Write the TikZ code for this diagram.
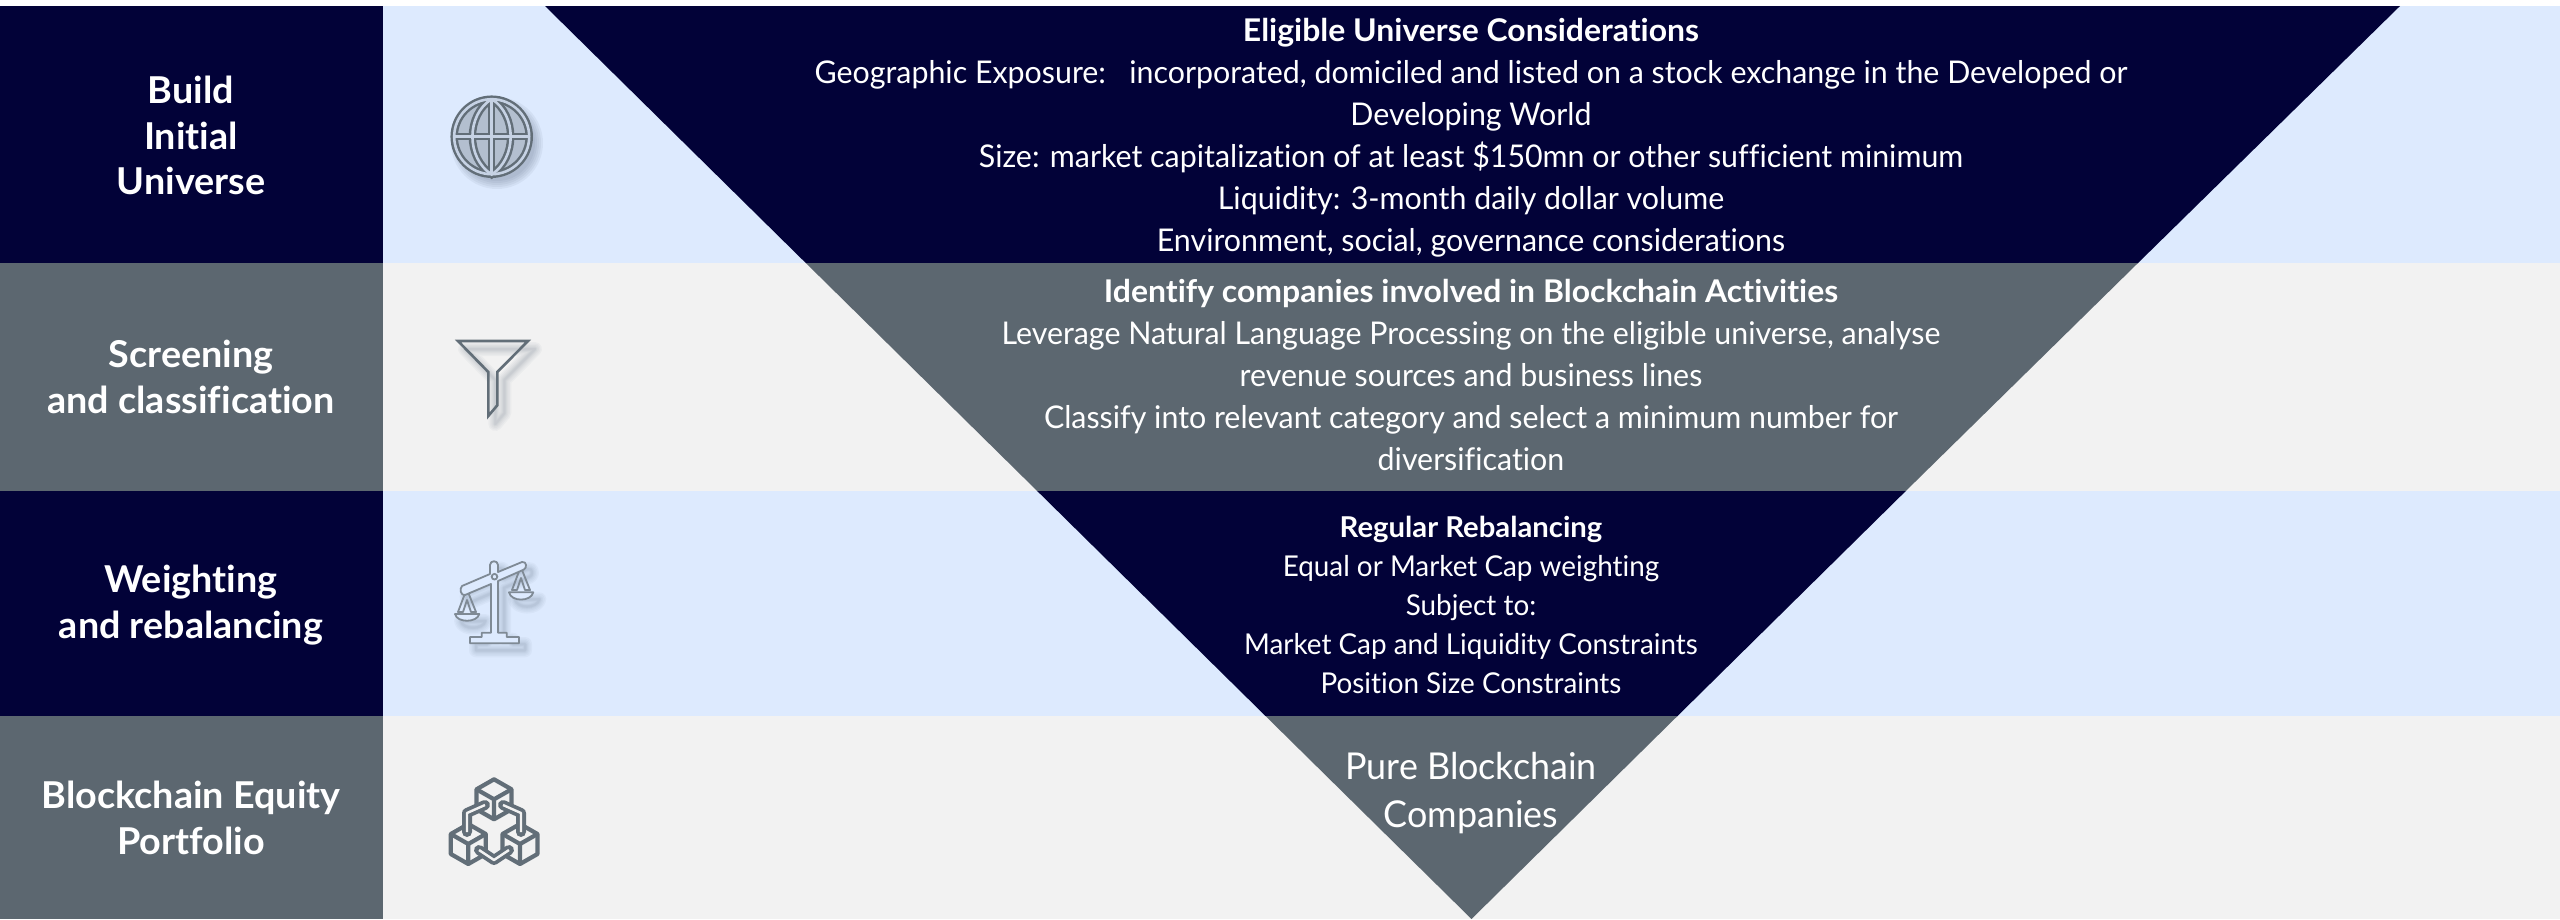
\documentclass[tikz,border=0pt]{standalone}
\usepackage{fontspec}
\setmainfont[FakeStretch=0.97,Ligatures=NoCommon,BoldFeatures={FakeStretch=1.02}]{Lato}
\definecolor{navy}{HTML}{020238}
\definecolor{slate}{HTML}{5C6770}
\definecolor{paleblue}{HTML}{DDEAFE}
\definecolor{palegrey}{HTML}{F2F2F2}
\definecolor{iconline}{HTML}{626E78}
\definecolor{iconlight}{HTML}{7F8A95}
\definecolor{shadowc}{HTML}{4A5A70}
\tikzset{
  x=1pt,y=-1pt,
  sidelabel/.style={text=white,font=\fontsize{37}{45.5}\selectfont\bfseries,align=center,inner sep=0pt},
  bodytext/.style={text=white,font=\fontsize{31.3}{42}\selectfont,align=center,inner sep=0pt},
  smalltext/.style={text=white,font=\fontsize{28.7}{39}\selectfont,align=center,inner sep=0pt},
  bigtext/.style={text=white,font=\fontsize{37}{48}\selectfont,align=center,inner sep=0pt},
  softshadow/.style={draw=shadowc,line width=#1,opacity=.045,line join=round,line cap=round},
}
\newcommand\softstroke[3]{% path, dx, dy
  \foreach \w in {14,11,8,5.5,3.5,2}{\path[softshadow=\w pt,shift={(#2,#3)}] #1;}}
\newcommand\funnelpath{(458,341) -- (528,341) -- (497.3,372) -- (497.3,405.3) -- (488.3,416) -- (488.3,372) -- cycle}
\newcommand\scalebeam{(462,586) -- (490,574) -- (490,565) .. controls (490,560) and (498,560) .. (498,565) -- (498,572) -- (522,562) .. controls (527,561) and (527,568) .. (524,569.5) -- (498,581) -- (498,632.7) -- (506.7,632.7) -- (506.7,637) -- (519,637) -- (519,643.3) -- (470,643.3) -- (470,637) -- (481.7,637) -- (481.7,632.7) -- (491,632.7) -- (491,584) -- (465,595) .. controls (461,596) and (459,589) .. (462,586) -- cycle}
\newcommand\leftpan{(455,614) -- (479.3,614) .. controls (477,623) and (457,623) .. (455,614) -- cycle}
\newcommand\rightpan{(509,592.3) -- (533.3,592.3) .. controls (531,602) and (511,602) .. (509,592.3) -- cycle}
\newcommand\leftcord{(465.5,592) -- (458,612) -- (463,612) -- (467,600) -- (471,612) -- (476,612) -- (468,592)}
\newcommand\rightcord{(519.5,570) -- (512,590) -- (517,590) -- (521,578) -- (525,590) -- (530,590) -- (522,570)}
\newcommand\cubeat[2]{%
  \path[draw=iconline,line width=4.2pt,line join=round,fill=palegrey]
    (#1,#2-20) -- (#1+17.5,#2-10) -- (#1+17.5,#2+10) -- (#1,#2+20) -- (#1-17.5,#2+10) -- (#1-17.5,#2-10) -- cycle;
  \path[draw=iconline,line width=4.2pt,line join=round]
    (#1-17.5,#2-10) -- (#1,#2) -- (#1+17.5,#2-10) (#1,#2) -- (#1,#2+20);}
\newcommand\chainlink[1]{%
  \path[draw=iconline,line width=10pt,line join=round,line cap=round] #1;
  \path[draw=palegrey,line width=2.4pt,line join=round] #1;}
\begin{document}
\begin{tikzpicture}
\useasboundingbox (0,0) rectangle (2560,919);
\fill[white] (0,0) rectangle (2560,6);
% bands
\fill[paleblue] (383,6) rectangle (2560,263);
\fill[palegrey] (383,263) rectangle (2560,491);
\fill[paleblue] (383,491) rectangle (2560,716);
\fill[palegrey] (383,716) rectangle (2560,919);
\fill[navy] (0,6) rectangle (383,263);
\fill[slate] (0,263) rectangle (383,491);
\fill[navy] (0,491) rectangle (383,716);
\fill[slate] (0,716) rectangle (383,919);
% funnel slices
\fill[navy] (545,6) -- (2400,6) -- (2138,263) -- (805.8,263) -- cycle;
\fill[slate] (805.8,263) -- (2138,263) -- (1905.8,491) -- (1037.2,491) -- cycle;
\fill[navy] (1037.2,491) -- (1905.8,491) -- (1677.5,716) -- (1265.5,716) -- cycle;
\fill[slate] (1265.5,716) -- (1677.5,716) -- (1471.5,919) -- cycle;
% side labels
\node[sidelabel] (l1) at (191,135.5) {Build\\Initial\\Universe};
\node[sidelabel] (l2) at (191,377) {Screening\\and classification};
\node[sidelabel] (l3) at (191,605) {Weighting\\and rebalancing};
\node[sidelabel] (l4) at (191,818) {Blockchain Equity\\Portfolio};
% centre text
\node[bodytext] (t1) at (1471,137.5) {\textbf{Eligible Universe Considerations}\\Geographic Exposure:\ \ \ incorporated, domiciled and listed on a stock exchange in the Developed or\\Developing World\\Size: market capitalization of at least \$150mn or other sufficient minimum\\Liquidity: 3-month daily dollar volume\\Environment, social, governance considerations};
\node[bodytext] (t2) at (1471,375) {\textbf{Identify companies involved in Blockchain Activities}\\Leverage Natural Language Processing on the eligible universe, analyse\\revenue sources and business lines\\Classify into relevant category and select a minimum number for\\diversification};
\node[smalltext] (t3) at (1471,605) {\textbf{Regular Rebalancing}\\Equal or Market Cap weighting\\Subject to:\\Market Cap and Liquidity Constraints\\Position Size Constraints};
\node[bigtext] (t4) at (1471,793) {Pure Blockchain\\Companies};
% globe icon
\foreach \r in {46,44,42,40,38}{\fill[shadowc,opacity=.07] (497,143) circle[radius=\r];}
\fill[iconlight!45!paleblue] (491.7,136.7) circle[radius=40];
\foreach \c/\w in {iconline/7.5,paleblue!75!iconlight/2.6}{
  \draw[\c,line width=\w pt] (491.7,136.7) circle[radius=37.5];
  \draw[\c,line width=\w pt] (491.7,99) -- (491.7,174.5) (454.5,136.7) -- (529,136.7);
  \draw[\c,line width=\w pt] (491.7,99) .. controls (466,115) and (466,158) .. (491.7,174.5) .. controls (517,158) and (517,115) .. (491.7,99);
}
% funnel icon
\softstroke{\funnelpath}{7}{8}
\draw[iconline,line width=2.6pt,line join=miter] \funnelpath;
% scales icon
\softstroke{\scalebeam}{6}{7}
\softstroke{\leftpan}{6}{7}
\softstroke{\rightpan}{6}{7}
\draw[iconlight,line width=1.8pt,line join=round] \leftcord;
\draw[iconlight,line width=1.8pt,line join=round] \rightcord;
\draw[iconlight,line width=1.8pt,line join=round,fill=paleblue] \scalebeam;
\draw[iconlight,line width=1.8pt,fill=paleblue] (494.5,576.7) circle[radius=2.8];
\draw[iconlight,line width=1.8pt,line join=round,fill=paleblue] \leftpan;
\draw[iconlight,line width=1.8pt,line join=round,fill=paleblue] \rightpan;
% block icon
\cubeat{494}{799.3}
\cubeat{468.3}{844}
\cubeat{520}{844}
\chainlink{(485,805) -- (467,813) -- (467,832)}
\chainlink{(503,805) -- (521,813) -- (521,832)}
\chainlink{(479,850) -- (494,860) -- (509,850)}
\end{tikzpicture}
\end{document}
